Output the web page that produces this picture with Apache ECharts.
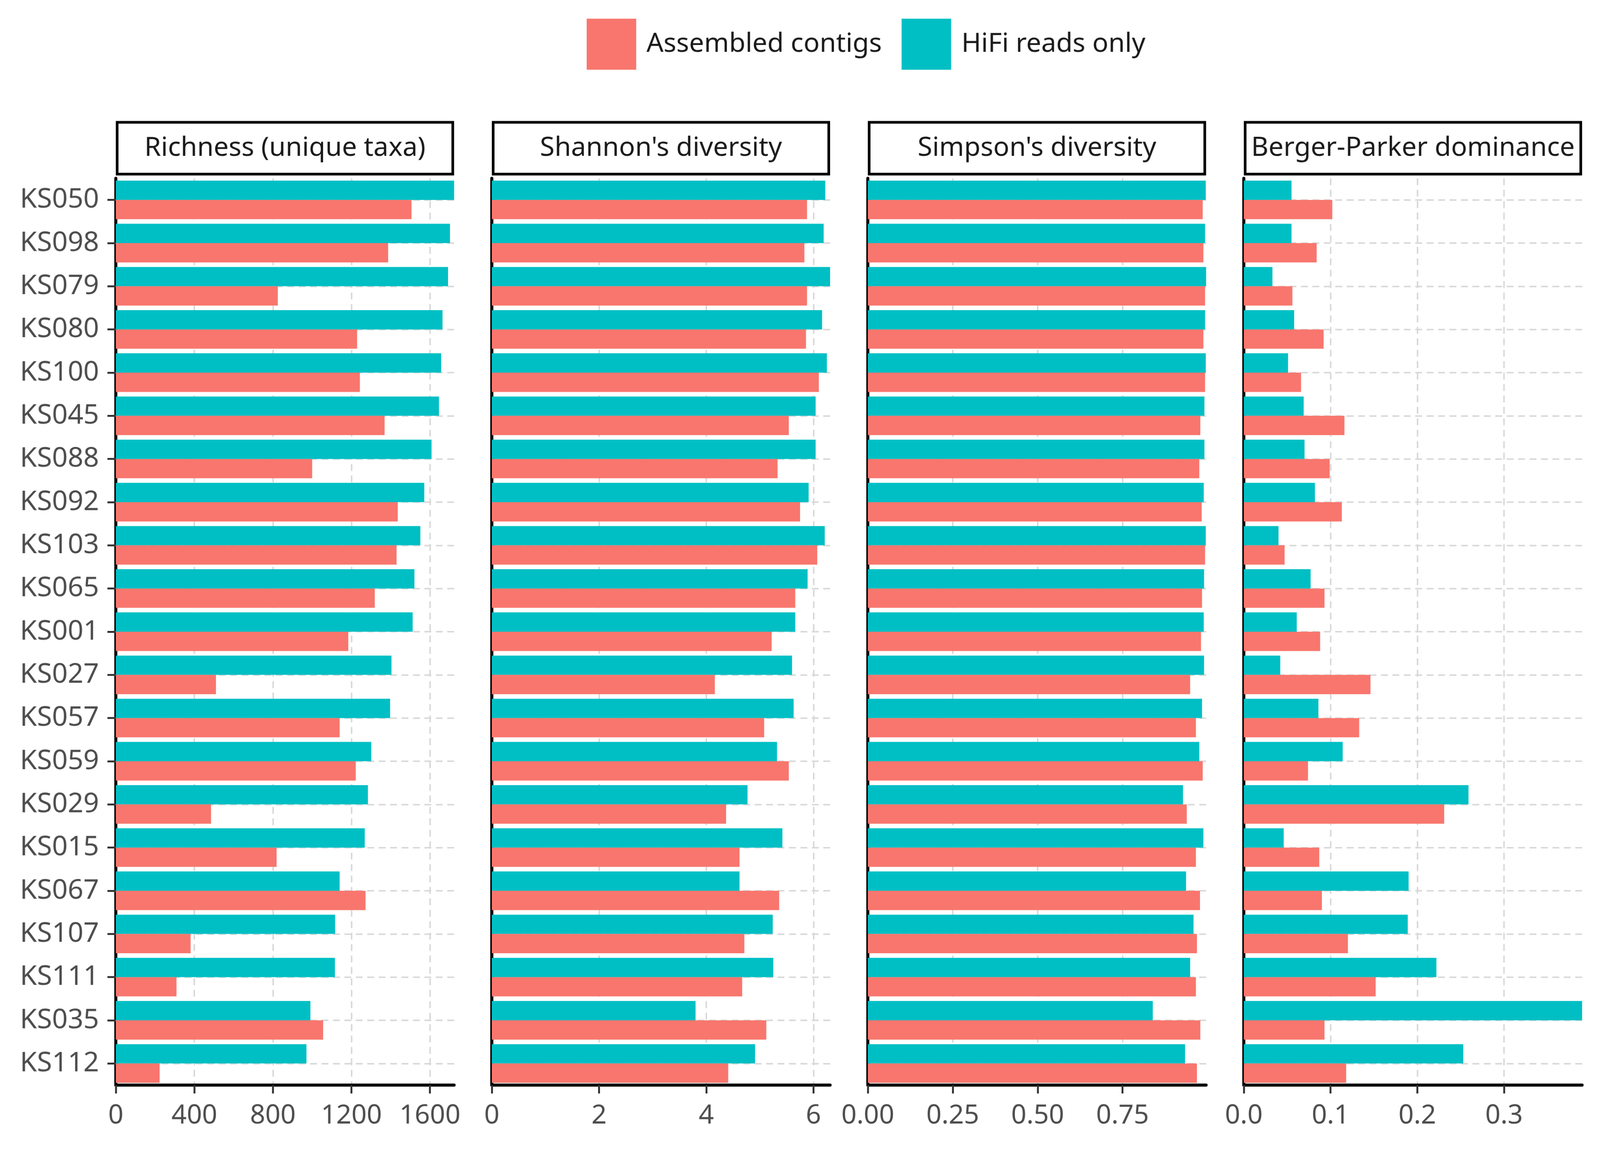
<!DOCTYPE html>
<html>
<head>
<meta charset="utf-8">
<script src="https://cdn.jsdelivr.net/npm/echarts@6/dist/echarts.min.js"></script>
<style>
  html, body { margin: 0; padding: 0; background: #ffffff; overflow: hidden; }
  #chart { width: 4200px; height: 3000px; transform-origin: 0 0; }
</style>
</head>
<body>
<div id="chart"></div>
<script>
// ---------------- data ----------------
const categories = ['KS050','KS098','KS079','KS080','KS100','KS045','KS088','KS092','KS103','KS065','KS001',
                    'KS027','KS057','KS059','KS029','KS015','KS067','KS107','KS111','KS035','KS112'];

const seriesNames = ['Assembled contigs', 'HiFi reads only'];

const panelTitles = ['Richness (unique taxa)', "Shannon's diversity", "Simpson's diversity", 'Berger-Parker dominance'];

const richnessHiFi = [1723,1702,1692,1664,1657,1646,1608,1571,1551,1521,1512,1404,1397,1301,1284,1268,1140,1117,1116,991,971];
const richnessAsm  = [1506,1387,825,1229,1243,1369,1000,1436,1430,1319,1184,510,1140,1222,485,819,1272,381,309,1056,223];

const shannonHiFi = [6.22,6.19,6.31,6.16,6.25,6.04,6.04,5.91,6.21,5.89,5.66,5.60,5.63,5.32,4.77,5.42,4.62,5.24,5.25,3.80,4.91];
const shannonAsm  = [5.88,5.83,5.88,5.86,6.10,5.54,5.33,5.75,6.07,5.66,5.22,4.16,5.08,5.54,4.37,4.62,5.36,4.71,4.67,5.12,4.41];

const simpsonHiFi = [0.995,0.993,0.996,0.993,0.995,0.991,0.991,0.989,0.995,0.990,0.989,0.990,0.984,0.976,0.928,0.988,0.937,0.959,0.949,0.839,0.934];
const simpsonAsm  = [0.986,0.988,0.993,0.988,0.993,0.979,0.976,0.983,0.993,0.984,0.981,0.949,0.966,0.986,0.939,0.966,0.978,0.969,0.966,0.979,0.969];

const bpHiFi = [0.055,0.055,0.033,0.058,0.051,0.069,0.070,0.082,0.040,0.077,0.061,0.042,0.086,0.114,0.259,0.046,0.190,0.189,0.222,0.390,0.253];
const bpAsm  = [0.102,0.084,0.056,0.092,0.066,0.116,0.099,0.113,0.047,0.093,0.088,0.146,0.133,0.074,0.231,0.087,0.090,0.120,0.152,0.093,0.118];

const richnessTicks = [0, 400, 800, 1200, 1600];
const shannonTicks  = [0, 2, 4, 6];
const simpsonTicks  = [0, 0.25, 0.5, 0.75];
const bpTicks       = [0, 0.1, 0.2, 0.3];

const tickDecimals = [0, 0, 2, 1];

// ---------------- layout / style ----------------
const COLORS = { asm: '#F8766D', hifi: '#00BFC4' };
const FONT = '"Noto Sans", "DejaVu Sans", sans-serif';
const GRID_LEFT = [304, 1291, 2278, 3265];
const GRID_W = 888;
const GRID_TOP = 468;
const GRID_H = 2380;
const STRIP_TOP = 321;
const STRIP_H = 136;

// fit the 4200x3000 design into the actual viewport (it may be narrower than 4200)
const fit = Math.min(1, (window.innerWidth || 4200) / 4200, (window.innerHeight || 3000) / 3000);
document.getElementById('chart').style.transform = 'scale(' + fit + ')';

const panels = [
  { title: panelTitles[0], hifi: richnessHiFi, asm: richnessAsm, ticks: richnessTicks },
  { title: panelTitles[1], hifi: shannonHiFi,  asm: shannonAsm,  ticks: shannonTicks },
  { title: panelTitles[2], hifi: simpsonHiFi,  asm: simpsonAsm,  ticks: simpsonTicks },
  { title: panelTitles[3], hifi: bpHiFi,       asm: bpAsm,       ticks: bpTicks }
];

const grids = [], xAxes = [], yAxes = [], series = [], graphics = [];

panels.forEach((p, i) => {
  const maxVal = Math.max(...p.hifi, ...p.asm);
  grids.push({ left: GRID_LEFT[i], top: GRID_TOP, width: GRID_W, height: GRID_H, containLabel: false, outerBoundsMode: 'none' });
  xAxes.push({
    type: 'value', gridIndex: i, min: 0, max: maxVal, interval: p.ticks[1],
    axisLine: { show: true, lineStyle: { color: '#000', width: 8 } },
    axisTick: { show: true, length: 22, customValues: p.ticks, lineStyle: { color: '#333', width: 5 } },
    axisLabel: {
      show: true, margin: 46, fontSize: 70, color: '#4d4d4d', fontFamily: FONT,
      customValues: p.ticks,
      formatter: v => Number(v).toFixed(tickDecimals[i])
    },
    splitLine: { show: true, lineStyle: { color: '#d9d9d9', width: 4, type: [18, 12] } }
  });
  yAxes.push({
    type: 'category', gridIndex: i, data: categories, inverse: true,
    axisLine: { show: true, lineStyle: { color: '#000', width: 8 } },
    axisTick: { show: i === 0, alignWithLabel: true, length: 22, lineStyle: { color: '#333', width: 5 } },
    axisLabel: { show: i === 0, margin: 44, fontSize: 72, color: '#4d4d4d', fontFamily: FONT },
    splitLine: { show: true, alignWithLabel: true, lineStyle: { color: '#d9d9d9', width: 4, type: [18, 12] } }
  });
  series.push({
    name: seriesNames[1], type: 'bar', xAxisIndex: i, yAxisIndex: i, data: p.hifi,
    barWidth: 50.7, barGap: '0%', itemStyle: { color: COLORS.hifi }, emphasis: { disabled: true }
  });
  series.push({
    name: seriesNames[0], type: 'bar', xAxisIndex: i, yAxisIndex: i, data: p.asm,
    barWidth: 50.7, barGap: '0%', itemStyle: { color: COLORS.asm }, emphasis: { disabled: true }
  });
  graphics.push({
    type: 'rect', z: 10,
    shape: { x: GRID_LEFT[i] + 3.5, y: STRIP_TOP, width: GRID_W - 7, height: STRIP_H },
    style: { fill: '#ffffff', stroke: '#000000', lineWidth: 7 }
  });
  graphics.push({
    type: 'text', z: 11,
    x: GRID_LEFT[i] + GRID_W / 2, y: STRIP_TOP + STRIP_H / 2,
    style: { text: p.title, font: '70px ' + FONT, fill: '#1a1a1a', align: 'center', verticalAlign: 'middle',
             textAlign: 'center', textVerticalAlign: 'middle' }
  });
});

const chart = echarts.init(document.getElementById('chart'), null, { renderer: 'canvas', width: 4200, height: 3000 });
chart.setOption({
  backgroundColor: '#ffffff',
  animation: false,
  textStyle: { fontFamily: FONT },
  legend: {
    data: seriesNames, top: 44, left: 1535, orient: 'horizontal',
    icon: 'rect', itemWidth: 130, itemHeight: 134, itemGap: 52, selectedMode: false,
    textStyle: { fontSize: 70, color: '#1a1a1a', fontFamily: FONT, padding: [0, 0, 0, 22] }
  },
  grid: grids,
  xAxis: xAxes,
  yAxis: yAxes,
  series: series,
  graphic: graphics
});
</script>
</body>
</html>
